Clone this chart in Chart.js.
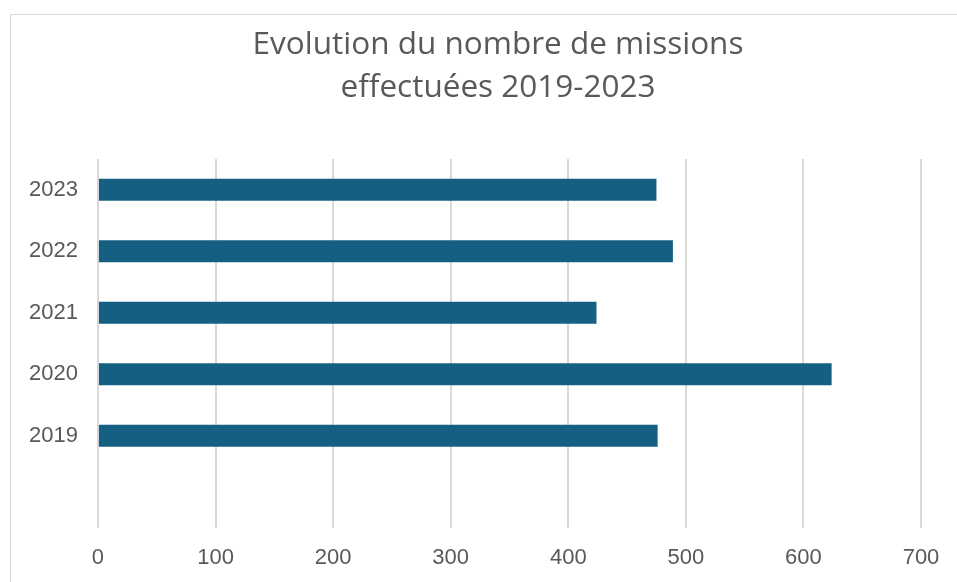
<!DOCTYPE html>
<html>
<head>
<meta charset="utf-8">
<script src="https://cdn.jsdelivr.net/npm/chart.js@4/dist/chart.umd.min.js"></script>
<style>
  html, body { margin: 0; padding: 0; background: #fff; overflow: hidden; }
  #frame {
    position: absolute; left: 10px; top: 14px;
    width: 1000px; height: 700px;
    border: 1px solid #d9d9d9;
  }
  #wrap { position: absolute; left: 0; top: 0; width: 957px; height: 582px; }
</style>
</head>
<body>
<div id="frame"></div>
<div id="wrap"><canvas id="myChart"></canvas></div>
<script>
// years shown bottom-to-top, with an empty slot under 2019 like the original
const years = ['', '2019', '2020', '2021', '2022', '2023'];
const missions = [null, 476, 624, 424, 489, 475];
const xTicks = [0, 100, 200, 300, 400, 500, 600, 700];

const titleLines = ['Evolution du nombre de missions', 'effectuées 2019-2023'];

// the original title sits a bit right of the canvas centre
const shiftTitle = {
    id: 'shiftTitle',
    afterLayout(chart) {
        if (chart.titleBlock) chart.titleBlock.left += 66;
    }
};

document.addEventListener("DOMContentLoaded", function() {
    const ctx = document.getElementById('myChart').getContext('2d');
    const grey = '#595959';
    const titleFont = '"Open Sans", sans-serif';
    const tickFont = '"Liberation Sans", Arial, sans-serif';

    new Chart(ctx, {
        type: 'bar',
        data: {
            labels: years,
            datasets: [{
                data: missions,
                backgroundColor: '#156082',
                barPercentage: 0.36,
                categoryPercentage: 1
            }]
        },
        options: {
            indexAxis: 'y',
            responsive: true,
            maintainAspectRatio: false,
            animation: false,
            layout: {
                padding: { top: 24, left: 9, right: 36, bottom: 0 }
            },
            plugins: {
                legend: { display: false },
                tooltip: { enabled: false },
                title: {
                    display: true,
                    text: titleLines,
                    color: grey,
                    font: { family: titleFont, size: 31.5, weight: 'normal', lineHeight: 1.365 },
                    padding: { top: 0, bottom: 49 }
                }
            },
            scales: {
                x: {
                    min: 0,
                    max: 700,
                    afterBuildTicks: function(axis) {
                        axis.ticks = xTicks.map(v => ({ value: v }));
                    },
                    afterFit: function(axis) {
                        axis.height = 54;
                    },
                    grid: { color: '#d9d9d9', lineWidth: 2, drawTicks: false },
                    border: { display: false },
                    ticks: {
                        color: grey,
                        padding: 17,
                        font: { family: tickFont, size: 22 }
                    }
                },
                y: {
                    reverse: true,
                    grid: { display: false, drawTicks: false },
                    border: { display: false },
                    ticks: {
                        color: grey,
                        padding: 20,
                        font: { family: tickFont, size: 22 }
                    }
                }
            }
        },
        plugins: [shiftTitle]
    });
});
</script>
</body>
</html>
